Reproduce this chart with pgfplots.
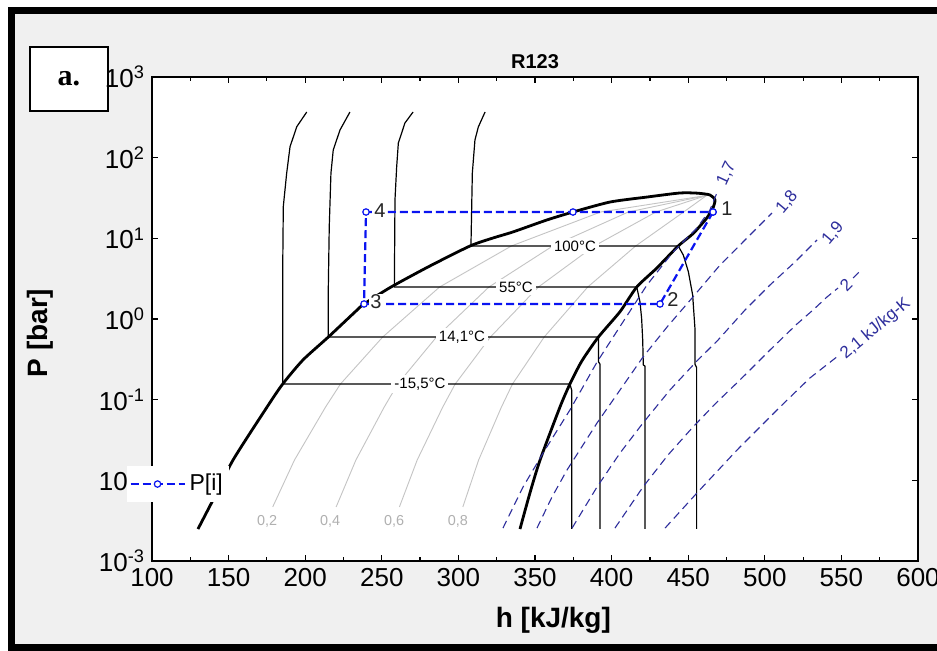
\documentclass[border=0pt]{standalone}
\usepackage{fontspec}
\setmainfont{Liberation Sans}
\newfontfamily\timesfont{Liberation Serif}
\usepackage{pgfplots}
\pgfplotsset{compat=1.18}
\definecolor{panelgray}{HTML}{F0F0F0}
\definecolor{isenblue}{HTML}{2E2E9C}
\definecolor{cycleblue}{HTML}{0A14F0}
\definecolor{qualgray}{HTML}{C4C4C4}
\definecolor{qualtext}{HTML}{B0B0B0}
\tikzset{
  iso/.style={black, line width=0.6pt},
  qual/.style={qualgray, line width=0.45pt},
  isen/.style={isenblue, line width=0.55pt, dash pattern=on 4pt off 2.5pt},
  dome/.style={black, line width=1.4pt},
  tlab/.style={fill=white, inner sep=1.5pt, font=\fontsize{7.5}{8}\selectfont},
  slab/.style={isenblue, inner sep=0.5pt, font=\fontsize{8.5}{9}\selectfont},
  qlab/.style={qualtext, font=\fontsize{7.2}{8}\selectfont},
  plab/.style={black!85, inner sep=0.6pt, font=\fontsize{10}{10}\selectfont},
}

\begin{document}
\begin{tikzpicture}
\path[use as bounding box] (0pt,0pt) rectangle (468.5pt,-325.5pt);
\fill[white] (0pt,0pt) rectangle (468.5pt,-325.5pt);
\fill[panelgray] (7.5pt,-7pt) rectangle (468.5pt,-322.5pt);
\draw[line width=3.5pt] (468.5pt,-5.25pt) -- (5.75pt,-5.25pt) -- (5.75pt,-324pt) -- (468.5pt,-324pt);
\draw[line width=0.6pt, fill=white] (15pt,-23.5pt) rectangle (54pt,-55.5pt);
\node[font=\timesfont\bfseries\fontsize{15}{15}\selectfont] at (34.5pt,-39.5pt) {a.};

\begin{axis}[
  at={(76pt,-280.5pt)}, anchor=south west,
  scale only axis, width=383pt, height=242pt,
  axis background/.style={fill=white},
  xmin=100, xmax=600,
  ymode=log, ymin=1e-3, ymax=1e3,
  xtick={100,150,...,600},
  minor xtick={125,175,...,575},
  ytick={1e-3,1e-2,1e-1,1,10,100,1000},
  yticklabels={10\textsuperscript{-3},10\textsuperscript{-2},10\textsuperscript{-1},10\textsuperscript{0},10\textsuperscript{1},10\textsuperscript{2},10\textsuperscript{3}},
  yminorticks=false,
  /pgf/number format/assume math mode=true,
  tick align=inside,
  major tick length=3pt, minor tick length=1.8pt,
  tick style={black, line width=0.6pt},
  axis line style={black, line width=0.6pt},
  tick label style={font=\fontsize{13}{13}\selectfont},
  title={R123},
  title style={font=\bfseries\fontsize{10}{10}\selectfont, yshift=-5.5pt},
  xlabel={h [kJ/kg]},
  xlabel style={font=\bfseries\fontsize{14}{14}\selectfont, at={(axis description cs:0.524,-0.1384)}, anchor=base},
  ylabel={P [bar]},
  ylabel style={font=\bfseries\fontsize{14}{14}\selectfont, at={(axis description cs:-0.137,0.471)}, anchor=base},
  legend style={at={(-0.0326,0.159)}, anchor=west, draw=none, fill=white,
    font=\fontsize{11.5}{12}\selectfont, inner xsep=1pt, inner ysep=2pt},
  legend image code/.code={\draw[mark repeat=2, mark phase=2, #1] plot coordinates {(0pt,0pt) (13.5pt,0pt) (27pt,0pt)};},
]
% quality lines
\addplot[qual, forget plot] coordinates {(178.8,0.00468) (193.0,0.01786) (213.3,0.0811) (223.0,0.1563) (250.6,0.598) (287.7,2.49) (334.6,8.04) (392.8,21.2) (462,34)};
\addplot[qual, forget plot] coordinates {(220.2,0.00468) (233.1,0.01786) (251.6,0.0811) (260.4,0.1563) (285.7,0.598) (319.9,2.49) (361.6,8.04) (410.9,21.2) (462,34)};
\addplot[qual, forget plot] coordinates {(261.5,0.00468) (273.1,0.01786) (289.8,0.0811) (297.9,0.1563) (320.9,0.598) (352.2,2.49) (388.7,8.04) (428.9,21.2) (462,34)};
\addplot[qual, forget plot] coordinates {(302.9,0.00468) (313.2,0.01786) (328.1,0.0811) (335.3,0.1563) (356.0,0.598) (384.4,2.49) (415.7,8.04) (447.0,21.2) (462,34)};
\node[qlab] at (axis cs:175.1,0.00313) {0,2};
\node[qlab] at (axis cs:216.2,0.00313) {0,4};
\node[qlab] at (axis cs:258.0,0.00313) {0,6};
\node[qlab] at (axis cs:299.7,0.00313) {0,8};

% isotherms
\addplot[iso, forget plot] coordinates {(201.0,368) (194.5,242) (190.1,136.8) (187.9,64.0) (185.7,24.7) (185.3,3.69) (185.3,0.1563) (372.8,0.1563) (374.0,0.13) (374.0,0.0025)};
\addplot[iso, forget plot] coordinates {(229.2,368) (222.7,220) (218.3,124.5) (216.8,64.0) (215.7,13.9) (215.1,2.52) (215.1,0.598) (391.4,0.598) (391.4,0.296) (392.4,0.276) (392.4,0.0025)};
\addplot[iso, forget plot] coordinates {(270.4,368) (265.1,269) (260.8,152) (259.7,76.6) (258.6,29.9) (258.2,2.49) (416.4,2.49) (418.5,1.64) (419.6,1.02) (420.3,0.549) (420.7,0.27) (421.8,0.26) (421.8,0.0025)};
\addplot[iso, forget plot] coordinates {(317.4,368) (313.0,240) (310.8,165.6) (309.1,64.6) (308.2,8.04) (443.5,8.04) (446.8,6.21) (450.1,3.86) (452.9,1.99) (454.4,0.767) (454.4,0.276) (455.5,0.25) (455.5,0.0025)};
\node[tlab] at (axis cs:376.1,8.04) {100°C};
\node[tlab] at (axis cs:337.6,2.49) {55°C};
\node[tlab] at (axis cs:302.3,0.598) {14,1°C};
\node[tlab] at (axis cs:274.9,0.1563) {-15,5°C};

% saturation dome
\addplot[dome, forget plot, smooth, tension=0.4] coordinates {(130.0,0.00249) (139.8,0.0057) (152.9,0.01786) (175.1,0.0811) (185.3,0.1563) (198.5,0.31) (215.1,0.598) (232.5,1.222) (238.4,1.535) (256.0,2.49) (281.0,4.5) (307.6,8.04) (322.6,10.1) (335.6,12.0) (357.8,16.9) (374.8,21.2) (399.0,28.2) (423.1,32.5) (444.6,36.5) (456.0,36.3) (464.2,34.5) (467.5,29.9) (466.2,23.8) (464.2,20.6) (462.0,17.7) (453.3,11.5) (443.5,8.04) (429.4,4.26) (416.4,2.49) (405.5,1.233) (391.4,0.598) (380.5,0.30) (372.8,0.1563) (366.3,0.0811) (353.3,0.01786) (346.7,0.00697) (340.2,0.00249)};

% isentropes
\addplot[isen, forget plot] coordinates {(329.1,0.00256) (342.2,0.00828) (356.5,0.0238) (372.8,0.0745) (390.5,0.293) (407.4,0.918) (423.1,2.64) (440.1,6.77) (455.7,13.4) (464.2,22.5) (469.5,39.7)};
\addplot[isen, forget plot] coordinates {(351.3,0.00256) (361.1,0.00622) (370.9,0.01343) (390.5,0.0514) (405.5,0.1318) (420.5,0.338) (436.2,0.796) (453.1,1.875) (470.8,4.67) (487.1,9.54) (504.7,20.6)};
\addplot[isen, forget plot] coordinates {(374.2,0.00256) (390.5,0.00828) (405.5,0.0218) (420.5,0.0514) (438.1,0.1318) (455.7,0.302) (469.5,0.549) (487.1,1.294) (503.4,2.64) (519.7,5.09) (534.1,9.54)};
\addplot[isen, forget plot] coordinates {(402.2,0.00256) (420.5,0.00828) (436.8,0.0206) (453.1,0.0458) (468.8,0.0935) (483.8,0.1754) (503.4,0.413) (521.0,0.867) (531.5,1.294) (540.6,1.875) (547.8,2.42)};
\addplot[isen, forget plot] coordinates {(557.6,3.22) (562.8,4.05)};
\addplot[isen, forget plot] coordinates {(434.9,0.00256) (455.7,0.00697) (481.9,0.0238) (509.9,0.0811) (529.5,0.186) (547.8,0.348)};
\node[slab, rotate=65] at (axis cs:475.1,64.0) {1,7};
\node[slab, rotate=50] at (axis cs:514.5,28.2) {1,8};
\node[slab, rotate=50] at (axis cs:544.5,11.6) {1,9};
\node[slab, rotate=45] at (axis cs:553.0,2.64) {2};
\node[slab, rotate=40, anchor=west] at (axis cs:550.4,0.338) {2,1 kJ/kg-K};

% cycle
\addplot[cycleblue, line width=1.1pt, dash pattern=on 4pt off 2pt,
  mark=*, mark size=1.6pt, mark options={solid, fill=white, draw=cycleblue, line width=0.6pt}]
  coordinates {(466.2,21.2) (431.6,1.535) (238.4,1.535) (239.7,21.2) (374.8,21.2) (466.2,21.2)};
\addlegendentry{P[i]}
\node[plab] at (axis cs:475.3,23.1) {1};
\node[plab] at (axis cs:440.1,1.72) {2};
\node[plab, fill=white] at (axis cs:246.2,1.625) {3};
\node[plab, fill=white] at (axis cs:248.8,21.8) {4};
\end{axis}
\end{tikzpicture}
\end{document}
